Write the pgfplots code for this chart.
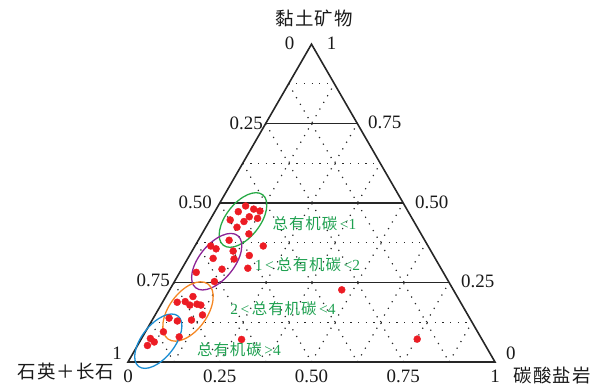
\documentclass[border=0pt]{standalone}
\usepackage{fontspec}
\setmainfont{Liberation Serif}
\newfontfamily\cjk[LetterSpace=6]{Noto Sans CJK SC}
\usepackage{pgfplots}
\pgfplotsset{compat=1.18}
\usepackage{pgfplotstable}
\usetikzlibrary{shapes.geometric}

\definecolor{dotred}{RGB}{236,28,36}
\definecolor{egreen}{RGB}{40,170,70}
\definecolor{tgreen}{RGB}{30,160,80}
\definecolor{epurple}{RGB}{140,35,150}
\definecolor{eorange}{RGB}{245,135,35}
\definecolor{eblue}{RGB}{25,140,210}
\definecolor{gridc}{RGB}{40,40,40}

% ternary data: clay fraction, carbonate fraction (quartz+feldspar = 1 - clay - carb)
\pgfplotstableread{
clay carb
0.491 0.075
0.481 0.102
0.475 0.122
0.473 0.064
0.457 0.102
0.452 0.127
0.447 0.055
0.442 0.095
0.424 0.085
0.403 0.128
0.383 0.084
0.365 0.043
0.356 0.062
0.349 0.112
0.326 0.069
0.324 0.127
0.282 0.045
0.292 0.110
0.253 0.109
0.365 0.186
0.335 0.163
0.295 0.179
0.206 0.074
0.190 0.061
0.188 0.040
0.179 0.079
0.182 0.097
0.179 0.109
0.148 0.129
0.138 0.043
0.129 0.070
0.132 0.107
0.095 0.049
0.079 0.100
0.074 0.024
0.063 0.040
0.052 0.027
0.071 0.274
0.227 0.469
0.072 0.752
}\samples

\begin{document}
\begin{tikzpicture}
\begin{axis}[
  x=367bp, y=367bp,
  xmin=-0.34877, xmax=1.26975, ymin=-0.0654, ymax=0.98638,
  hide axis, clip=false,
]
\coordinate (BBL) at (axis cs:-0.34877,-0.0654);
\coordinate (BTR) at (axis cs:1.26975,0.98638);
% dotted grid (1/8 steps)
\pgfplotsset{dotgrid/.style={gridc, line width=1.2pt, dash pattern=on 1.2pt off 6.5pt, forget plot}}
\addplot[dotgrid] coordinates {(0.0625,0.108253) (0.9375,0.108253)};
\addplot[dotgrid] coordinates {(0.1875,0.324760) (0.8125,0.324760)};
\addplot[dotgrid] coordinates {(0.3125,0.541266) (0.6875,0.541266)};
\addplot[dotgrid] coordinates {(0.4375,0.757772) (0.5625,0.757772)};
\addplot[dotgrid] coordinates {(0.4375,0.757772) (0.875,0)};
\addplot[dotgrid] coordinates {(0.375,0.649519) (0.75,0)};
\addplot[dotgrid] coordinates {(0.3125,0.541266) (0.625,0)};
\addplot[dotgrid] coordinates {(0.25,0.433013) (0.5,0)};
\addplot[dotgrid] coordinates {(0.1875,0.324760) (0.375,0)};
\addplot[dotgrid] coordinates {(0.125,0.216506) (0.25,0)};
\addplot[dotgrid] coordinates {(0.0625,0.108253) (0.125,0)};
\addplot[dotgrid] coordinates {(0.125,0) (0.5625,0.757772)};
\addplot[dotgrid] coordinates {(0.25,0) (0.625,0.649519)};
\addplot[dotgrid] coordinates {(0.375,0) (0.6875,0.541266)};
\addplot[dotgrid] coordinates {(0.5,0) (0.75,0.433013)};
\addplot[dotgrid] coordinates {(0.625,0) (0.8125,0.324760)};
\addplot[dotgrid] coordinates {(0.75,0) (0.875,0.216506)};
\addplot[dotgrid] coordinates {(0.875,0) (0.9375,0.108253)};
% solid lines
\pgfplotsset{solidl/.style={black!85, line width=1.6pt, forget plot}}
\addplot[solidl] coordinates {(0.125,0.216506) (0.875,0.216506)};
\addplot[solidl] coordinates {(0.25,0.433013) (0.75,0.433013)};
\addplot[solidl] coordinates {(0.375,0.649519) (0.625,0.649519)};
\addplot[solidl, line join=miter] coordinates {(0.5,0.866025) (0,0) (1,0) (0.5,0.866025) (0,0)};
% samples
\addplot[only marks, mark=*, mark size=3.5pt, mark options={draw=dotred, fill=dotred}]
  table[x expr=\thisrow{carb}+0.5*\thisrow{clay}, y expr=0.8660254*\thisrow{clay}] {\samples};
% TOC group ellipses
\node[ellipse, draw=egreen, line width=1.3pt, minimum width=64bp, minimum height=34bp, inner sep=0pt, rotate=52] at (axis cs:0.31335,0.38692) {};
\node[ellipse, draw=epurple, line width=1.3pt, minimum width=67bp, minimum height=35bp, inner sep=0pt, rotate=51] at (axis cs:0.24169,0.27330) {};
\node[ellipse, draw=eorange, line width=1.3pt, minimum width=68bp, minimum height=38bp, inner sep=0pt, rotate=54] at (axis cs:0.16349,0.13760) {};
\node[ellipse, draw=eblue, line width=1.3pt, minimum width=64bp, minimum height=33bp, inner sep=0pt, rotate=52] at (axis cs:0.08256,0.05668) {};
% group labels
\begin{scope}[every node/.style={text=tgreen, font=\fontsize{15.5}{18}\selectfont, inner sep=0pt}]
\node at (axis cs:0.5082,0.3774) {{\cjk 总有机碳}\,<1};
\node at (axis cs:0.4891,0.2643) {1\,<\,{\cjk 总有机碳}\,<2};
\node at (axis cs:0.4223,0.1444) {2\,<\,{\cjk 总有机碳}\,<4};
\node at (axis cs:0.3025,0.0327) {{\cjk 总有机碳}\,>4};
\end{scope}
% axis numbers
\begin{scope}[every node/.style={text=black!90, font=\fontsize{19}{22}\selectfont, inner sep=0pt}]
\node at (axis cs:0.4401,0.8678) {0};
\node at (axis cs:0.5545,0.8678) {1};
\node[anchor=east] at (axis cs:0.3678,0.6512) {0.25};
\node[anchor=east] at (axis cs:0.2289,0.4360) {0.50};
\node[anchor=east] at (axis cs:0.1144,0.2234) {0.75};
\node[anchor=east] at (axis cs:-0.0163,0.0245) {1};
\node[anchor=west] at (axis cs:0.6540,0.6540) {0.75};
\node[anchor=west] at (axis cs:0.7820,0.4360) {0.50};
\node[anchor=west] at (axis cs:0.9074,0.2193) {0.25};
\node[anchor=west] at (axis cs:1.0300,0.0245) {0};
\node at (axis cs:0,-0.0390) {0};
\node at (axis cs:0.25,-0.0390) {0.25};
\node at (axis cs:0.5,-0.0390) {0.50};
\node at (axis cs:0.75,-0.0390) {0.75};
\node at (axis cs:1.0,-0.0390) {1};
\end{scope}
% corner labels
\begin{scope}[every node/.style={text=black!90, font=\fontsize{18.5}{22}\selectfont\cjk, inner sep=0pt}]
\node at (axis cs:0.5068,0.9373) {黏土矿物};
\node at (axis cs:-0.1690,-0.0272) {石英＋长石};
\node at (axis cs:1.1553,-0.0381) {碳酸盐岩};
\end{scope}
\end{axis}
\pgfresetboundingbox
\path (BBL) rectangle (BTR);
\end{tikzpicture}
\end{document}
